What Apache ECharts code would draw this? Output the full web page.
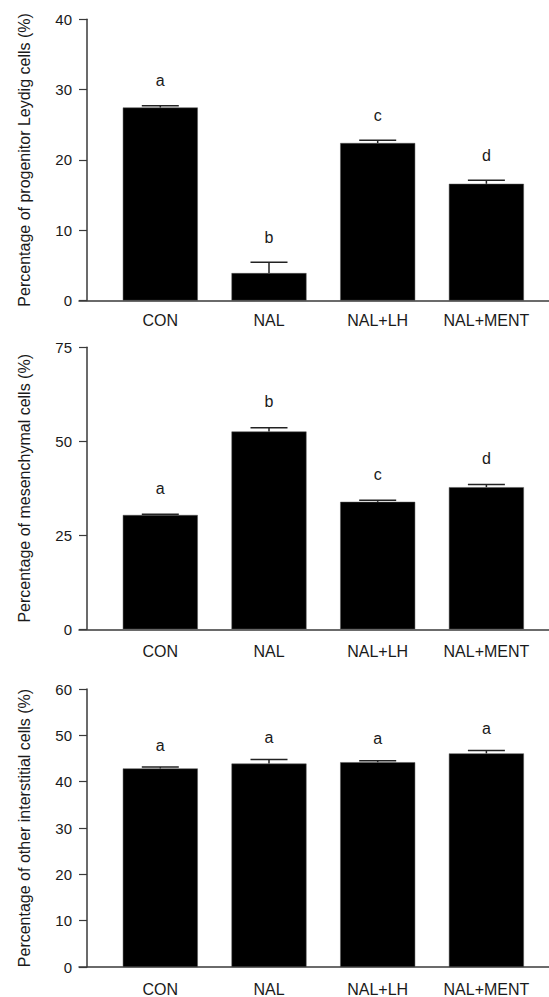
<!DOCTYPE html>
<html>
<head>
<meta charset="utf-8">
<style>html,body{margin:0;padding:0;background:#fff;}#c{width:549px;height:997px;}</style>
<script src="https://cdn.jsdelivr.net/npm/echarts@6/dist/echarts.min.js"></script>
</head>
<body>
<div id="c"></div>
<script>
const categories = ['CON', 'NAL', 'NAL+LH', 'NAL+MENT'];

const progenitorMean = [27.45, 3.9, 22.4, 16.6];
const progenitorErr = [0.25, 1.55, 0.4, 0.5];
const progenitorLetters = ['a', 'b', 'c', 'd'];

const mesenchymalMean = [30.4, 52.6, 33.9, 37.8];
const mesenchymalErr = [0.2, 1.0, 0.4, 0.7];
const mesenchymalLetters = ['a', 'b', 'c', 'd'];

const otherMean = [42.85, 43.9, 44.2, 46.1];
const otherErr = [0.3, 0.9, 0.3, 0.65];
const otherLetters = ['a', 'a', 'a', 'a'];

const panels = [
  { name: 'Percentage of progenitor Leydig cells (%)', mean: progenitorMean, err: progenitorErr, letters: progenitorLetters, max: 40, interval: 10, top: 19.3, height: 281.2, letterOff: 25, labelMargin: 12 },
  { name: 'Percentage of mesenchymal cells (%)', mean: mesenchymalMean, err: mesenchymalErr, letters: mesenchymalLetters, max: 75, interval: 25, top: 347.3, height: 282, letterOff: 26, labelMargin: 14 },
  { name: 'Percentage of other interstitial cells (%)', mean: otherMean, err: otherErr, letters: otherLetters, max: 60, interval: 10, top: 689, height: 281, letterOff: 22, labelMargin: 14 }
];

const FONT = '"Liberation Sans", Arial, Helvetica, sans-serif';
const AXIS_COLOR = '#3a3a3a';
const TEXT_COLOR = '#1a1a1a';

const grids = [], xAxes = [], yAxes = [], series = [];
panels.forEach((p, i) => {
  grids.push({ left: 79, right: 0, top: p.top, height: p.height, containLabel: false });
  xAxes.push({
    gridIndex: i, type: 'value', min: 0.252, max: 4.576,
    axisLine: { show: true, onZero: false, lineStyle: { color: AXIS_COLOR, width: 1.5 } },
    axisTick: { show: false },
    splitLine: { show: false },
    axisLabel: {
      customValues: [1, 2, 3, 4],
      formatter: v => categories[Math.round(v) - 1] || '',
      color: TEXT_COLOR, fontSize: 16, fontFamily: FONT, margin: p.labelMargin
    }
  });
  yAxes.push({
    gridIndex: i, type: 'value', min: 0, max: p.max, interval: p.interval, offset: -8,
    name: p.name, nameLocation: 'middle', nameGap: 55,
    nameTextStyle: { color: TEXT_COLOR, fontSize: 16, fontFamily: FONT },
    axisLine: { show: true, lineStyle: { color: AXIS_COLOR, width: 1.5 } },
    axisTick: { show: true, length: 8, lineStyle: { color: AXIS_COLOR, width: 1.2 } },
    splitLine: { show: false },
    axisLabel: { color: TEXT_COLOR, fontSize: 15, fontFamily: FONT, margin: 15 }
  });
  series.push({
    type: 'bar', xAxisIndex: i, yAxisIndex: i, barWidth: 75,
    itemStyle: { color: '#000', borderColor: '#555', borderWidth: 0.5 },
    data: p.mean.map((m, k) => [k + 1, m]),
    silent: true
  });
  series.push({
    type: 'custom', xAxisIndex: i, yAxisIndex: i, z: 5, silent: true,
    data: p.mean.map((m, k) => [k + 1, m, p.err[k], k]),
    renderItem: (params, api) => {
      const x = api.value(0), m = api.value(1), e = api.value(2), k = api.value(3);
      const base = api.coord([x, m]);
      const top = api.coord([x, m + e]);
      const half = 18.5;
      return {
        type: 'group', children: [
          { type: 'line', shape: { x1: top[0], y1: base[1], x2: top[0], y2: top[1] }, style: { stroke: '#222', lineWidth: 1.5 } },
          { type: 'line', shape: { x1: top[0] - half, y1: top[1], x2: top[0] + half, y2: top[1] }, style: { stroke: '#222', lineWidth: 1.5 } },
          { type: 'text', x: top[0], y: top[1] - p.letterOff, style: { text: p.letters[k], align: 'center', verticalAlign: 'middle', fontSize: 16, fontFamily: FONT, fill: TEXT_COLOR } }
        ]
      };
    }
  });
});

const chart = echarts.init(document.getElementById('c'), null, { renderer: 'svg' });
chart.setOption({
  animation: false,
  backgroundColor: '#fff',
  grid: grids, xAxis: xAxes, yAxis: yAxes, series: series
});
</script>
</body>
</html>
